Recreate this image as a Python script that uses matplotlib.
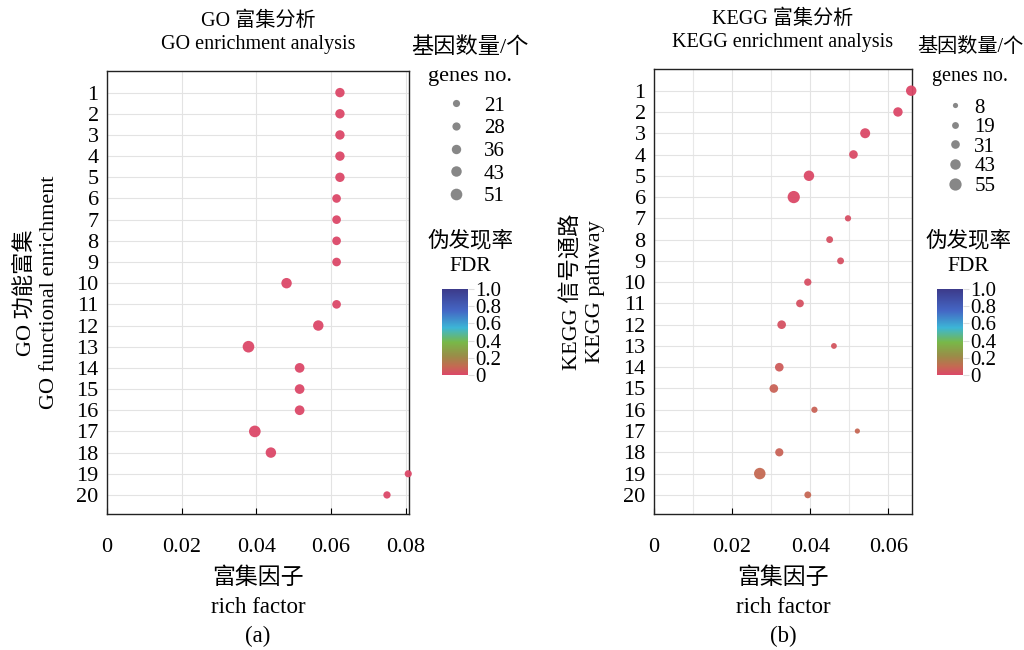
import matplotlib
matplotlib.use("Agg")
import matplotlib.pyplot as plt
from matplotlib.colors import LinearSegmentedColormap, Normalize
from matplotlib.lines import Line2D
import numpy as np

plt.rcParams['font.family'] = ['Liberation Serif', 'Noto Sans CJK SC']
plt.rcParams['axes.unicode_minus'] = False

rows = list(range(1, 21))

# GO panel
go_rich = [0.0624, 0.0624, 0.0624, 0.0624, 0.0624, 0.0615, 0.0615, 0.0615, 0.0615, 0.0481,
           0.0615, 0.0566, 0.0379, 0.0516, 0.0516, 0.0516, 0.0396, 0.0439, 0.0807, 0.0750]
go_genes = [36, 36, 36, 36, 36, 31, 31, 31, 31, 43,
            31, 43, 51, 38, 38, 38, 51, 43, 21, 22]
go_fdr = [0.0] * 20
go_legend_sizes = [21, 28, 36, 43, 51]

# KEGG panel
kegg_rich = [0.0659, 0.0625, 0.0541, 0.0511, 0.0397, 0.0358, 0.0497, 0.0450, 0.0478, 0.0394,
             0.0374, 0.0327, 0.0461, 0.0321, 0.0307, 0.0411, 0.0521, 0.0321, 0.0271, 0.0394]
kegg_genes = [43, 36, 40, 31, 43, 55, 15, 19, 19, 22,
              25, 31, 12, 31, 31, 15, 8, 28, 50, 19]
kegg_fdr = [0.0, 0.0, 0.005, 0.01, 0.005, 0.005, 0.02, 0.025, 0.025, 0.02,
            0.03, 0.03, 0.04, 0.06, 0.08, 0.08, 0.09, 0.08, 0.1, 0.09]
kegg_legend_sizes = [8, 19, 31, 43, 55]

fdr_ticks = [0, 0.2, 0.4, 0.6, 0.8, 1.0]
fdr_labels = ["0", "0.2", "0.4", "0.6", "0.8", "1.0"]

cmap = LinearSegmentedColormap.from_list("fdr", [
    (0.0, '#dc4868'), (0.1, '#c46a52'), (0.22, '#9a8c48'), (0.38, '#78b848'),
    (0.55, '#3cb6d6'), (0.75, '#4466c4'), (1.0, '#3c3a8a')])
norm = Normalize(0, 1)


def diam_pt(n):
    # dot diameter in points from gene count
    return (4 + 0.15 * np.asarray(n, dtype=float)) * 72 / 100


W, H = 1024, 650
fig = plt.figure(figsize=(10.24, 6.5), dpi=100)

panels = [
    dict(rect=[107/W, 136/H, 302/W, 443/H], x=go_rich, n=go_genes, fdr=go_fdr,
         xlim=(0, 0.0809), xticks=[0, 0.02, 0.04, 0.06, 0.08],
         xticklabels=["0", "0.02", "0.04", "0.06", "0.08"],
         title="GO 富集分析\nGO enrichment analysis",
         ylabel="GO 功能富集\nGO functional enrichment", ylab_x=-0.16,
         xlabel="富集因子\nrich factor\n(a)", minor=False,
         leg_sizes=go_legend_sizes, leg_left=440, leg_top=96, leg_space=0.15, leg_pad=0.6,
         leg_title_x=470, leg_title_fs=16,
         cbar=[442/W, 1 - 375/H, 26/W, 86/H], fdr_x=470),
    dict(rect=[654/W, 136/H, 258/W, 445/H], x=kegg_rich, n=kegg_genes, fdr=kegg_fdr,
         xlim=(0, 0.0661), xticks=[0, 0.02, 0.04, 0.06],
         xticklabels=["0", "0.02", "0.04", "0.06"],
         title="KEGG 富集分析\nKEGG enrichment analysis",
         ylabel="KEGG 信号通路\nKEGG pathway", ylab_x=-0.19,
         xlabel="富集因子\nrich factor\n(b)", minor=True,
         leg_sizes=kegg_legend_sizes, leg_left=939, leg_top=98, leg_space=0.0, leg_pad=0.2,
         leg_title_x=970, leg_title_fs=14.5,
         cbar=[937/W, 1 - 375/H, 26/W, 86/H], fdr_x=968),
]

for p in panels:
    ax = fig.add_axes(p['rect'])
    d = diam_pt(p['n'])
    ax.scatter(p['x'], rows, s=d ** 2, c=p['fdr'], cmap=cmap, norm=norm,
               edgecolors='none', alpha=0.95, zorder=3, clip_on=False)
    ax.set_xlim(*p['xlim'])
    ax.set_ylim(20.9, -0.02)
    ax.set_xticks(p['xticks'])
    ax.set_xticklabels(p['xticklabels'], fontsize=16)
    if p['minor']:
        ax.set_xticks([0.01, 0.03, 0.05], minor=True)
        ax.grid(True, which='minor', axis='x', color='#e8e8e8', lw=0.8)
        ax.tick_params(axis='x', which='minor', length=0)
    ax.set_yticks(rows)
    ax.set_yticklabels([str(r) for r in rows], fontsize=16)
    ax.tick_params(axis='y', length=0, pad=6)
    ax.tick_params(axis='x', direction='in', length=4, pad=17)
    ax.grid(True, which='major', color='#e3e3e3', lw=0.8)
    ax.set_axisbelow(True)
    for sp in ax.spines.values():
        sp.set_linewidth(1.0)
        sp.set_color('#222222')
    ax.set_title(p['title'], fontsize=14.5, linespacing=1.3, pad=16)
    ax.set_ylabel(p['ylabel'], fontsize=16, linespacing=1.25)
    ax.yaxis.set_label_coords(p['ylab_x'], 0.5)
    ax.set_xlabel(p['xlabel'], fontsize=16.5, linespacing=1.48, labelpad=8)

    # size legend
    fig.text(p['leg_title_x'] / W, 1 - 48 / H, "基因数量/个", fontsize=p['leg_title_fs'],
             ha='center', va='center')
    fig.text(p['leg_title_x'] / W, 1 - 76 / H, "genes no.", fontsize=p['leg_title_fs'],
             ha='center', va='center')
    handles = [Line2D([], [], ls='none', marker='o', markersize=diam_pt(s),
                      markerfacecolor='#7a7a7a', markeredgecolor='none', alpha=0.9)
               for s in p['leg_sizes']]
    fig.legend(handles, [str(s) for s in p['leg_sizes']], loc='upper left',
               bbox_to_anchor=(p['leg_left'] / W, 1 - p['leg_top'] / H), frameon=False,
               fontsize=15, labelspacing=p['leg_space'], handletextpad=p['leg_pad'],
               borderpad=0, borderaxespad=0, handlelength=1.5)

    # FDR colorbar
    fig.text(p['fdr_x'] / W, 1 - 241 / H, "伪发现率", fontsize=15.5, ha='center', va='center')
    fig.text(p['fdr_x'] / W, 1 - 266 / H, "FDR", fontsize=15.5, ha='center', va='center')
    cax = fig.add_axes(p['cbar'])
    cb = fig.colorbar(plt.cm.ScalarMappable(norm=norm, cmap=cmap), cax=cax)
    cb.set_ticks(fdr_ticks)
    cb.set_ticklabels(fdr_labels)
    cb.outline.set_visible(False)
    cax.tick_params(length=4, width=0.8, color='#dddddd', labelsize=15, pad=1)

fig.savefig("out.png", dpi=100)
